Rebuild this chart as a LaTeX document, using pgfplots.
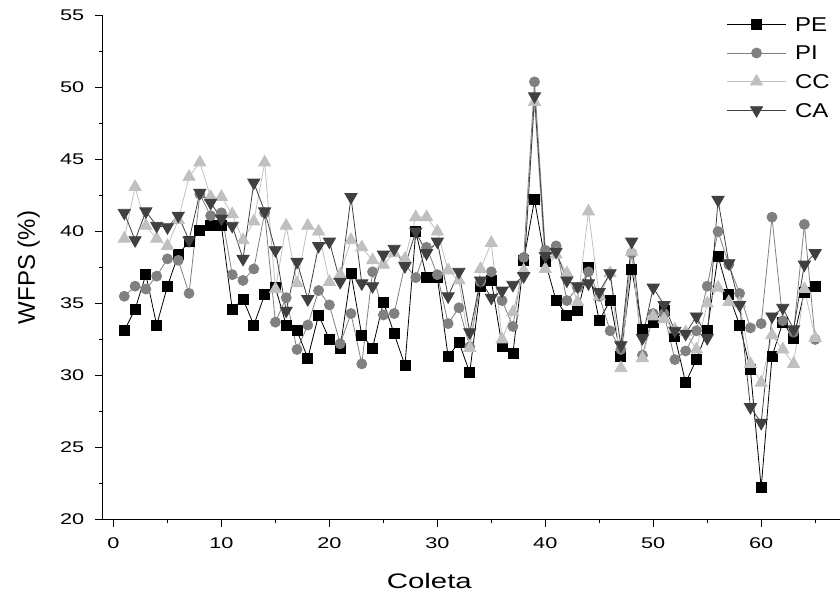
\documentclass[border=0pt]{standalone}
\usepackage{pgfplots}
\pgfplotsset{compat=1.18}
\usepackage{fontspec}
\setmainfont{Liberation Sans}
\definecolor{cPI}{HTML}{808080}
\definecolor{cCC}{HTML}{C0C0C0}
\definecolor{cCA}{HTML}{404040}
\begin{document}
\begin{tikzpicture}
\begin{axis}[
  scale only axis, width=737.3pt, height=503.6pt,
  xmin=-1, xmax=67.3, ymin=20, ymax=55,
  axis x line*=bottom, axis y line*=left,
  axis line style={line width=1.3pt, -},
  xtick={0,10,...,60}, minor xtick={5,15,...,65},
  ytick={20,25,...,55}, minor ytick={22.5,27.5,...,52.5},
  tick align=outside, major tick length=8pt, minor tick length=4pt,
  every tick/.style={line width=1.3pt, black},
  tick label style={font=\fontsize{15.5}{18}\selectfont, xscale=1.4},
  xticklabel style={yshift=-7pt},
  yticklabel style={xshift=-4pt},
  /pgf/number format/assume math mode=true,
  xlabel={Coleta}, ylabel={WFPS (\%)},
  xlabel style={font=\fontsize{21}{24}\selectfont, xscale=1.4, yshift=-18pt, xshift=-30pt},
  ylabel style={font=\fontsize{24}{27}\selectfont, yshift=12pt},
  legend cell align=left,
  legend style={at={(0.846,1.003)}, anchor=north west, draw=none, fill=none, inner sep=0pt,
    font=\fontsize{20}{24}\selectfont, row sep=8.6pt, column sep=5pt,
    nodes={xscale=1.2, text height=14pt, text depth=0pt, inner sep=3pt}},
  legend image code/.code={\draw[mark repeat=2,mark phase=2,#1] plot coordinates {(0pt,0pt) (29.5pt,0pt) (59pt,0pt)};},
]
\coordinate (sw) at (rel axis cs:0,0);
\coordinate (ne) at (rel axis cs:1,1);
\addplot[black, line width=0.8pt, mark=square*, mark size=5pt, mark options={solid, fill=black, draw=black}] coordinates {
(1,33.1)(2,34.6)(3,37.0)(4,33.5)(5,36.2)(6,38.4)(7,39.3)(8,40.1)(9,40.4)(10,40.4)
(11,34.6)(12,35.3)(13,33.5)(14,35.6)(15,36.1)(16,33.5)(17,33.1)(18,31.2)(19,34.2)(20,32.5)
(21,31.9)(22,37.1)(23,32.8)(24,31.9)(25,35.1)(26,32.9)(27,30.7)(28,40.0)(29,36.8)(30,36.8)
(31,31.3)(32,32.3)(33,30.2)(34,36.2)(35,36.6)(36,32.0)(37,31.5)(38,38.0)(39,42.2)(40,37.9)
(41,35.2)(42,34.2)(43,34.5)(44,37.5)(45,33.8)(46,35.2)(47,31.3)(48,37.4)(49,33.2)(50,33.7)
(51,34.5)(52,32.7)(53,29.5)(54,31.1)(55,33.1)(56,38.3)(57,35.6)(58,33.5)(59,30.4)(60,22.2)
(61,31.3)(62,33.7)(63,32.6)(64,35.8)(65,36.2)};
\addlegendentry{PE}
\addplot[cPI, line width=0.8pt, mark=*, mark size=5pt, mark options={solid, fill=cPI, draw=cPI}] coordinates {
(1,35.5)(2,36.2)(3,36.0)(4,36.9)(5,38.1)(6,38.0)(7,35.7)(8,42.6)(9,41.1)(10,41.3)
(11,37.0)(12,36.6)(13,37.4)(14,41.3)(15,33.7)(16,35.4)(17,31.8)(18,33.5)(19,35.9)(20,34.9)
(21,32.2)(22,34.3)(23,30.8)(24,37.2)(25,34.2)(26,34.3)(27,37.7)(28,36.8)(29,38.9)(30,37.0)
(31,33.6)(32,34.7)(33,32.0)(34,36.5)(35,37.2)(36,35.2)(37,33.4)(38,38.2)(39,50.4)(40,38.7)
(41,39.0)(42,35.2)(43,36.1)(44,37.2)(45,35.5)(46,33.1)(47,31.8)(48,38.5)(49,31.4)(50,34.3)
(51,34.3)(52,31.1)(53,31.7)(54,33.1)(55,36.2)(56,40.0)(57,37.7)(58,35.7)(59,33.3)(60,33.6)
(61,41.0)(62,33.8)(63,33.0)(64,40.5)(65,32.5)};
\addlegendentry{PI}
\addplot[cCC, line width=0.8pt, mark=triangle*, mark size=7pt, mark options={solid, fill=cCC, draw=cCC}] coordinates {
(1,39.5)(2,43.1)(3,40.4)(4,39.5)(5,39.0)(6,40.8)(7,43.8)(8,44.8)(9,42.4)(10,42.4)
(11,41.2)(12,39.4)(13,40.7)(14,44.8)(15,36.0)(16,40.4)(17,36.4)(18,40.4)(19,40.0)(20,36.5)
(21,37.0)(22,39.4)(23,38.9)(24,38.0)(25,37.7)(26,38.5)(27,38.1)(28,41.0)(29,41.0)(30,40.0)
(31,37.3)(32,36.6)(33,31.9)(34,37.4)(35,39.2)(36,32.5)(37,34.4)(38,37.3)(39,49.0)(40,37.4)
(41,38.4)(42,37.1)(43,35.1)(44,41.4)(45,35.5)(46,37.1)(47,30.5)(48,38.6)(49,31.2)(50,34.1)
(51,33.9)(52,33.2)(53,33.0)(54,31.8)(55,35.0)(56,36.1)(57,35.1)(58,35.0)(59,30.8)(60,29.5)
(61,32.8)(62,31.8)(63,30.8)(64,36.0)(65,32.6)};
\addlegendentry{CC}
\addplot[cCA, line width=0.8pt, mark=triangle*, mark size=7pt, mark options={solid, rotate=180, fill=cCA, draw=cCA}] coordinates {
(1,41.3)(2,39.4)(3,41.4)(4,40.4)(5,40.3)(6,41.1)(7,39.4)(8,42.7)(9,42.0)(10,40.9)
(11,40.4)(12,38.1)(13,43.4)(14,41.4)(15,38.7)(16,34.5)(17,37.9)(18,35.3)(19,39.0)(20,39.3)
(21,36.5)(22,42.4)(23,36.4)(24,36.2)(25,38.4)(26,38.8)(27,37.6)(28,40.0)(29,38.5)(30,39.3)
(31,35.5)(32,37.2)(33,33.0)(34,36.6)(35,35.4)(36,35.9)(37,36.3)(38,36.9)(39,49.4)(40,38.3)
(41,38.6)(42,36.6)(43,36.2)(44,36.4)(45,35.8)(46,37.1)(47,32.1)(48,39.3)(49,32.6)(50,36.1)
(51,34.9)(52,33.1)(53,32.9)(54,34.1)(55,32.6)(56,42.2)(57,37.8)(58,34.9)(59,27.8)(60,26.7)
(61,34.1)(62,34.7)(63,33.2)(64,37.7)(65,38.5)};
\addlegendentry{CA}
\end{axis}
\pgfresetboundingbox
\path[use as bounding box] ([xshift=-102.7pt, yshift=-72.7pt]sw) rectangle ([yshift=15.7pt]ne);
\end{tikzpicture}
\end{document}
